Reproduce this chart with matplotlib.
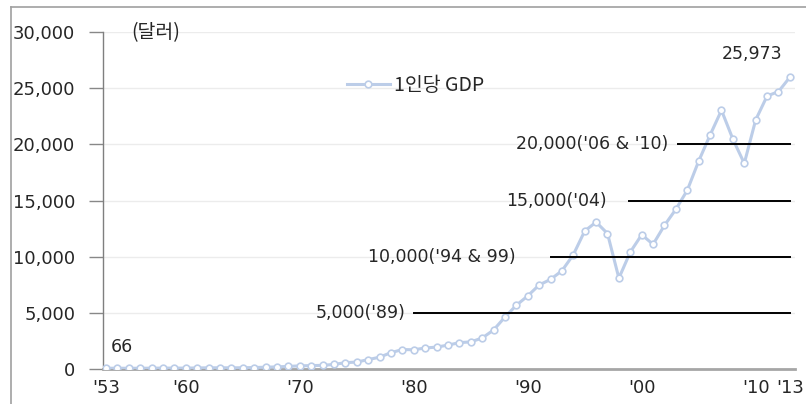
import matplotlib
matplotlib.use("Agg")
import matplotlib.pyplot as plt
from matplotlib.lines import Line2D

# Per-capita GNI (US dollars), 1953-2013
years = list(range(1953, 2014))
gdp_per_capita = [
    66, 70, 65, 66, 74, 80, 81,                      # 1953-1959
    79, 93, 106, 107, 107, 109, 133, 158, 189, 232,  # 1960-1969
    279, 303, 324, 407, 563, 617, 835, 1051, 1453, 1734,        # 1970-1979
    1711, 1870, 1950, 2126, 2345, 2414, 2754, 3467, 4618, 5671,  # 1980-1989
    6505, 7476, 7973, 8741, 10168, 12282, 13077, 12059, 8085, 10409,   # 1990-1999
    11951, 11097, 12789, 14219, 15910, 18507, 20823, 23033, 20463, 18303,  # 2000-2009
    22170, 24302, 24696, 25973,                       # 2010-2013
]

# Milestone levels, the year each bar starts from, where its label ends, and labels
milestone_levels = [5000, 10000, 15000, 20000]
milestone_starts = [1980.0, 1992.0, 1998.9, 2003.2]
milestone_label_ends = [1979.3, 1988.9, 1996.9, 2002.3]
milestone_labels = ["5,000('89)", "10,000('94 & 99)", "15,000('04)", "20,000('06 & '10)"]

xtick_years = [1953, 1960, 1970, 1980, 1990, 2000, 2010, 2013]
xtick_labels = ["'53", "'60", "'70", "'80", "'90", "'00", "'10", "'13"]
yticks = [0, 5000, 10000, 15000, 20000, 25000, 30000]
ytick_labels = ["0", "5,000", "10,000", "15,000", "20,000", "25,000", "30,000"]

FONT = ["DejaVu Sans", "Noto Sans CJK KR"]
KFONT = ["Noto Sans CJK KR", "DejaVu Sans"]
TXT = "#262626"
LINE_C = "#bccde8"

plt.rcParams["font.family"] = FONT

fig = plt.figure(figsize=(8.06, 4.04), dpi=100)
ax = fig.add_axes([103 / 806, 1 - 369 / 404, (795 - 103) / 806, (369 - 32) / 404])

ax.set_xlim(1952.74, 2013.45)
ax.set_ylim(0, 30000)

# faint horizontal gridlines
for v in yticks[1:]:
    ax.axhline(v, color="#ececec", lw=1.0, zorder=0)

ax.plot(years, gdp_per_capita, color=LINE_C, lw=2.2, marker="o", ms=4.8,
        mfc="white", mec=LINE_C, mew=1.2, zorder=3, label="1인당 GDP")

for lvl, start, lab_end, lab in zip(milestone_levels, milestone_starts,
                                    milestone_label_ends, milestone_labels):
    ax.plot([start, years[-1]], [lvl, lvl], color="black", lw=1.4, zorder=4)
    ax.text(lab_end, lvl, lab, ha="right", va="center", fontsize=12.5, color=TXT, zorder=5)

# end-point labels
ax.annotate(f"{gdp_per_capita[0]:,}", xy=(years[0], gdp_per_capita[0]), xytext=(16, 21),
            textcoords="offset pixels", ha="center", va="center", fontsize=12.5, color=TXT)
ax.annotate(f"{gdp_per_capita[-1]:,}", xy=(years[-1], gdp_per_capita[-1]), xytext=(-38, 23),
            textcoords="offset pixels", ha="center", va="center", fontsize=12.5, color=TXT)

ax.set_xticks(xtick_years)
ax.set_xticklabels(xtick_labels, fontsize=13, color=TXT)
ax.set_yticks(yticks)
ax.set_yticklabels(ytick_labels, fontsize=13, color=TXT)
ax.tick_params(axis="x", length=0, pad=7)
ax.tick_params(axis="y", length=10, width=1, color="#888888", pad=10, direction="out")

for s in ("top", "right"):
    ax.spines[s].set_visible(False)
ax.spines["left"].set_color("#7f7f7f")
ax.spines["left"].set_linewidth(1.0)
ax.spines["bottom"].set_color("#a6a6a6")
ax.spines["bottom"].set_linewidth(2.0)

# unit label
fig.text(131 / 806, 1 - 33 / 404, "(달러)", ha="left", va="center", fontsize=14,
         color=TXT, family=KFONT)

# legend
leg = ax.legend(loc="upper left", bbox_to_anchor=(236 / 692, 1 - 35 / 337), frameon=False,
                handlelength=2.2, handletextpad=0.25, borderaxespad=0,
                prop={"family": KFONT, "size": 14})
for t in leg.get_texts():
    t.set_color(TXT)

# outer chart border
fig.add_artist(Line2D([11 / 806, 11 / 806], [0, 1 - 7 / 404], transform=fig.transFigure,
                      color="#a0a0a0", lw=1.2))
fig.add_artist(Line2D([11 / 806, 1], [1 - 7 / 404, 1 - 7 / 404], transform=fig.transFigure,
                      color="#a0a0a0", lw=1.2))

fig.savefig("out.png", dpi=100)
